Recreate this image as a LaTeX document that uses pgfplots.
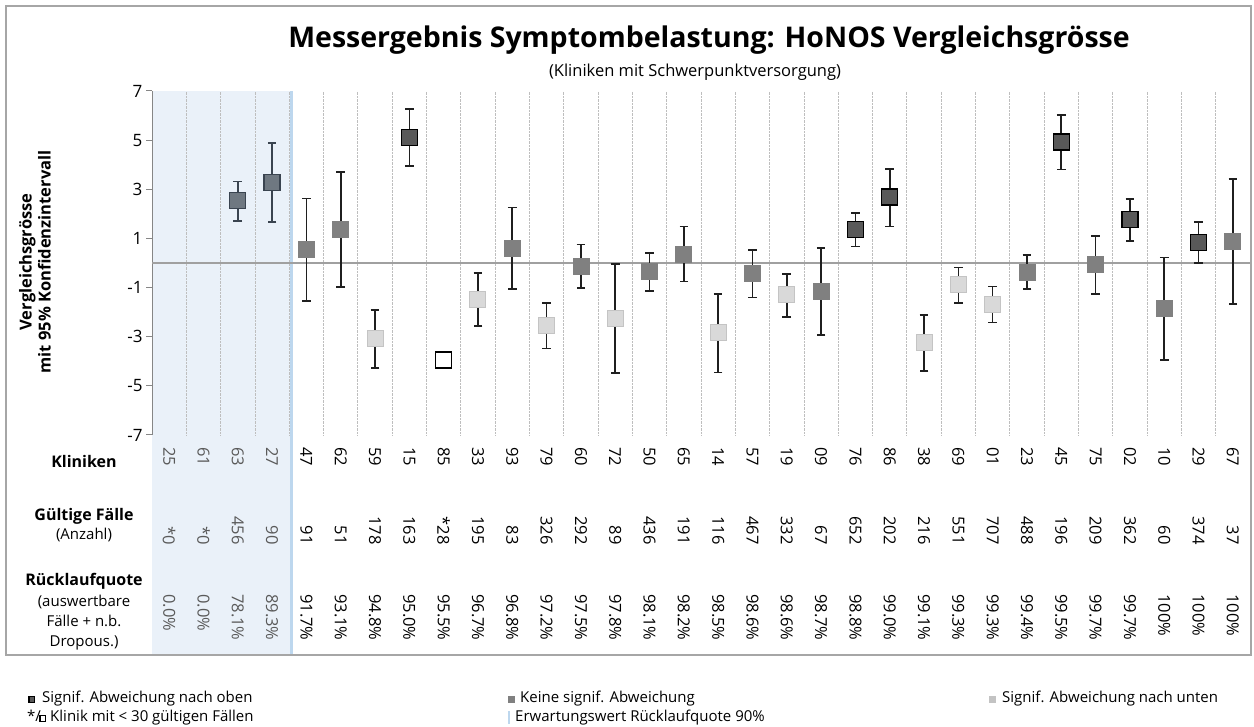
\documentclass[border=0pt]{standalone}
\usepackage{fontspec}
\setmainfont{Open Sans}
\usepackage{pgfplots}
\pgfplotsset{compat=1.18}

\definecolor{upCol}{HTML}{595959}
\definecolor{midCol}{HTML}{808080}
\definecolor{lowCol}{HTML}{D9D9D9}
\definecolor{lowEdge}{HTML}{C4C4C4}
\definecolor{refCol}{HTML}{6F7881}
\definecolor{refEdge}{HTML}{3A4450}
\definecolor{barCol}{HTML}{1F1F1F}
\definecolor{shadeCol}{HTML}{EAF1F9}
\definecolor{blueLine}{HTML}{BDD7EE}
\definecolor{frameCol}{HTML}{A6A6A6}
\definecolor{axisCol}{HTML}{868686}
\definecolor{gridCol}{HTML}{BEBEBE}
\definecolor{zeroCol}{HTML}{A0A0A0}
\definecolor{numGray}{HTML}{5A5A5A}

% small legend square: border colour, fill colour
\newcommand\legsq[2]{\textcolor{#1}{\rule{7pt}{7pt}}\kern-5.6pt\textcolor{#2}{\rule[1.4pt]{4.2pt}{4.2pt}}\kern1.4pt}

\tikzset{
  num/.style={font=\fontsize{16.5}{18}\selectfont, rotate=-90, inner sep=0pt},
  hdr/.style={font=\fontsize{16}{19}\selectfont\bfseries, align=center},
  sub/.style={font=\fontsize{15}{20}\selectfont, align=center},
  leg/.style={anchor=base west, inner sep=0pt, font=\fontsize{15}{17}\selectfont},
}
\pgfplotsset{
  ebars/.style={error bars/.cd, y dir=both, y explicit,
    error bar style={#1, line width=1.6pt},
    error mark options={#1, rotate=90, line width=1.6pt, mark size=4.3pt}},
}

\begin{document}
\begin{tikzpicture}[x=1pt,y=1pt]
\useasboundingbox (0,0) rectangle (1254,727);

% reference block (shaded) and 90% line
\fill[shadeCol] (152,72) rectangle (291,636);
\draw[blueLine, line width=3pt] (291.5,72) -- (291.5,636);

\begin{axis}[
  at={(152pt,292pt)}, anchor=south west, scale only axis,
  width=1098pt, height=344pt,
  xmin=0.5, xmax=32.5, ymin=-7, ymax=7,
  axis lines*=left,
  x axis line style={draw=none},
  y axis line style={axisCol, line width=1pt},
  xtick={1.5,2.5,...,31.5}, xticklabels={},
  xtick style={draw=none},
  xmajorgrids, major x grid style={densely dotted, gridCol, line width=0.8pt},
  ytick={-7,-5,...,7},
  ytick style={axisCol, line width=1pt},
  tick align=outside, major tick length=6pt,
  yticklabel style={font=\fontsize{17}{20}\selectfont,
    /pgf/number format/assume math mode=true},
]
\draw[zeroCol, line width=1.4pt] (axis cs:0.5,0) -- (axis cs:32.5,0);

% reference clinics
\addplot[only marks, mark=square*, mark size=8pt, draw=refEdge, fill=refCol,
  line width=1.2pt, ebars=refEdge]
coordinates {
  (3,2.55) += (0,0.77) -= (0,0.84)
  (4,3.27) += (0,1.62) -= (0,1.61)
};

% keine signif. Abweichung
\addplot[only marks, mark=square*, mark size=8pt, draw=midCol, fill=midCol,
  line width=0.8pt, ebars=barCol]
coordinates {
  (5,0.57)   += (0,2.05) -= (0,2.12)
  (6,1.37)   += (0,2.34) -= (0,2.35)
  (11,0.61)  += (0,1.65) -= (0,1.67)
  (13,-0.14) += (0,0.89) -= (0,0.88)
  (15,-0.35) += (0,0.76) -= (0,0.79)
  (16,0.35)  += (0,1.13) -= (0,1.11)
  (18,-0.42) += (0,0.94) -= (0,0.98)
  (20,-1.17) += (0,1.78) -= (0,1.76)
  (26,-0.38) += (0,0.71) -= (0,0.69)
  (28,-0.07) += (0,1.18) -= (0,1.18)
  (30,-1.86) += (0,2.08) -= (0,2.09)
  (32,0.87)  += (0,2.54) -= (0,2.54)
};

% signif. nach unten
\addplot[only marks, mark=square*, mark size=8pt, draw=lowEdge, fill=lowCol,
  line width=1pt, ebars=barCol]
coordinates {
  (7,-3.08)  += (0,1.16) -= (0,1.19)
  (10,-1.47) += (0,1.06) -= (0,1.10)
  (12,-2.54) += (0,0.90) -= (0,0.94)
  (14,-2.26) += (0,2.22) -= (0,2.21)
  (17,-2.83) += (0,1.58) -= (0,1.63)
  (19,-1.30) += (0,0.84) -= (0,0.90)
  (23,-3.22) += (0,1.11) -= (0,1.17)
  (24,-0.87) += (0,0.69) -= (0,0.75)
  (25,-1.68) += (0,0.72) -= (0,0.75)
};

% signif. nach oben
\addplot[only marks, mark=square*, mark size=8pt, draw=black, fill=upCol,
  line width=1.3pt, ebars=barCol]
coordinates {
  (8,5.12)  += (0,1.14) -= (0,1.18)
  (21,1.37) += (0,0.67) -= (0,0.70)
  (22,2.68) += (0,1.15) -= (0,1.19)
  (27,4.92) += (0,1.11) -= (0,1.12)
  (29,1.77) += (0,0.83) -= (0,0.87)
  (31,0.84) += (0,0.84) -= (0,0.83)
};

% weniger als 30 gueltige Faelle
\addplot[only marks, mark=square*, mark size=8pt, draw=black, fill=white, line width=1.3pt]
coordinates {(9,-3.95)};
\end{axis}

% frame
\draw[frameCol, line width=1.3pt] (6,72) rectangle (1251,721);

% titles
\node[anchor=base, inner sep=0pt, font=\fontsize{28.5}{32}\selectfont\bfseries] at (709,679)
  {Messergebnis Symptombelastung: HoNOS Vergleichsgrösse};
\node[anchor=base, inner sep=0pt, font=\fontsize{16.5}{19}\selectfont] at (695,650)
  {(Kliniken mit Schwerpunktversorgung)};
\node[rotate=90, align=center, font=\fontsize{16.5}{19}\selectfont\bfseries] at (35,465)
  {Vergleichsgrösse\\mit 95\% Konfidenzintervall};

% row headers
\node[hdr] at (84,265) {Kliniken};
\node[hdr] at (84,211) {Gültige Fälle};
\node[sub] at (84,192) {(Anzahl)};
\node[hdr] at (84,146) {Rücklaufquote};
\node[sub] at (84,104) {(auswertbare\\Fälle + n.b.\\Dropous.)};

% table rows
\foreach \k [count=\i] in {25,61,63,27,47,62,59,15,85,33,93,79,60,72,50,65,
                           14,57,19,09,76,86,38,69,01,23,45,75,02,10,29,67} {
  \pgfmathsetmacro\cx{152+(\i-0.5)*34.3125}
  \ifnum\i<5 \def\tc{numGray}\else\def\tc{black}\fi
  \node[num, anchor=west, text=\tc] at (\cx,280) {\k};
}
\foreach \k [count=\i] in {*0,*0,456,90,91,51,178,163,*28,195,83,326,292,89,436,191,
                           116,467,332,67,652,202,216,551,707,488,196,209,362,60,374,37} {
  \pgfmathsetmacro\cx{152+(\i-0.5)*34.3125}
  \ifnum\i<5 \def\tc{numGray}\else\def\tc{black}\fi
  \node[num, anchor=east, text=\tc] at (\cx,182) {\k};
}
\foreach \k [count=\i] in {0.0\%,0.0\%,78.1\%,89.3\%,91.7\%,93.1\%,94.8\%,95.0\%,95.5\%,
                           96.7\%,96.8\%,97.2\%,97.5\%,97.8\%,98.1\%,98.2\%,98.5\%,98.6\%,
                           98.6\%,98.7\%,98.8\%,99.0\%,99.1\%,99.3\%,99.3\%,99.4\%,99.5\%,
                           99.7\%,99.7\%,100\%,100\%,100\%} {
  \pgfmathsetmacro\cx{152+(\i-0.5)*34.3125}
  \ifnum\i<5 \def\tc{numGray}\else\def\tc{black}\fi
  \node[num, anchor=west, text=\tc] at (\cx,133) {\k};
}

% legend
\node[leg] at (28,24) {\legsq{black}{upCol}};
\node[leg] at (42,24) {Signif. Abweichung nach oben};
\node[leg] at (27,5) {*/};
\node[leg] at (39,5) {\legsq{black}{white}};
\node[leg] at (50,5) {Klinik mit < 30 gültigen Fällen};
\node[leg] at (508,24) {\legsq{midCol}{midCol}};
\node[leg] at (520,24) {Keine signif. Abweichung};
\node[leg] at (508,5) {\textcolor{blueLine}{\rule[-2pt]{2pt}{13pt}}};
\node[leg] at (515,5) {Erwartungswert Rücklaufquote 90\%};
\node[leg] at (989,24) {\legsq{lowCol!90!black}{lowCol!90!black}};
\node[leg] at (1002,24) {Signif. Abweichung nach unten};
\end{tikzpicture}
\end{document}
